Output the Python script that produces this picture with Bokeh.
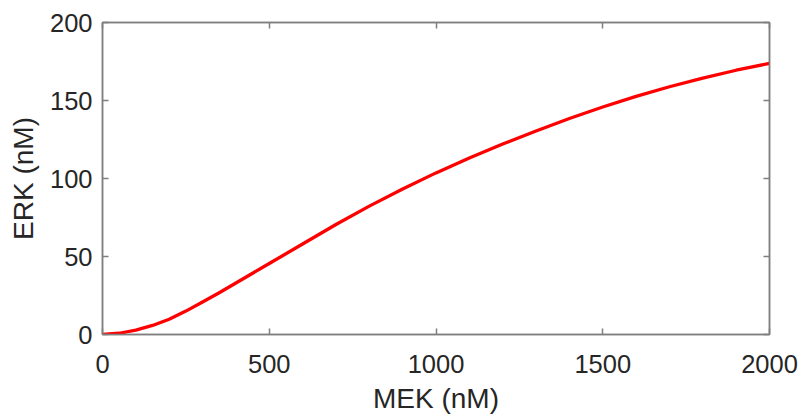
from bokeh.plotting import figure
from bokeh.models import LinearAxis, Range1d, FixedTicker
from bokeh.embed import file_html
from bokeh.resources import INLINE

# Data
mek = [0, 50, 100, 150, 200, 250, 300, 350, 400, 500, 600, 700, 800, 900, 1000,
       1100, 1200, 1300, 1400, 1500, 1600, 1700, 1800, 1900, 2000]
erk = [0, 0.8, 2.8, 5.8, 9.8, 15, 20.8, 26.8, 33, 45.5, 58, 70.5, 82.3, 93.3, 103.6,
       113.2, 122.1, 130.5, 138.5, 145.8, 152.6, 158.8, 164.4, 169.4, 173.8]

x_ticks = [0, 500, 1000, 1500, 2000]
y_ticks = [0, 50, 100, 150, 200]

FONT = "Liberation Sans"
AX = "#7f7f7f"
TXT = "#262626"

p = figure(width=799, height=416, output_backend="svg", toolbar_location=None,
           x_range=Range1d(0, 2000), y_range=Range1d(0, 200),
           min_border_left=102, min_border_right=30, min_border_top=22,
           min_border_bottom=82, background_fill_color="white",
           border_fill_color="white")
p.grid.visible = False
p.outline_line_color = AX
p.outline_line_width = 1.5

p.line(mek, erk, line_color="#ff0000", line_width=3.3, line_join="round")

for ax in (p.xaxis[0], p.yaxis[0]):
    ax.axis_line_color = AX
    ax.axis_line_width = 1.5
    ax.major_tick_line_color = AX
    ax.major_tick_line_width = 1.5
    ax.major_tick_in = 6
    ax.major_tick_out = 0
    ax.minor_tick_line_color = None
    ax.major_label_text_font = FONT
    ax.major_label_text_font_size = "25.5px"
    ax.major_label_text_color = TXT
    ax.axis_label_text_font = FONT
    ax.axis_label_text_font_size = "28px"
    ax.axis_label_text_font_style = "normal"
    ax.axis_label_text_color = TXT

p.xaxis[0].ticker = FixedTicker(ticks=x_ticks)
p.yaxis[0].ticker = FixedTicker(ticks=y_ticks)
p.xaxis[0].axis_label = "MEK (nM)"
p.yaxis[0].axis_label = "ERK (nM)"
p.xaxis[0].major_label_standoff = 20
p.xaxis[0].axis_label_standoff = 7
p.yaxis[0].major_label_standoff = 10
p.yaxis[0].axis_label_standoff = 8

# mirrored ticks on top and right
for loc, ticks in (("right", y_ticks), ("above", x_ticks)):
    a = LinearAxis(ticker=FixedTicker(ticks=ticks))
    a.axis_line_color = AX
    a.axis_line_width = 1.5
    a.major_tick_line_color = AX
    a.major_tick_line_width = 1.5
    a.major_tick_in = 6
    a.major_tick_out = 0
    a.minor_tick_line_color = None
    a.major_label_text_font_size = "0px"
    a.major_label_text_color = None
    a.major_label_standoff = 0
    p.add_layout(a, loc)

open("out.html", "w").write(file_html(p, INLINE))
